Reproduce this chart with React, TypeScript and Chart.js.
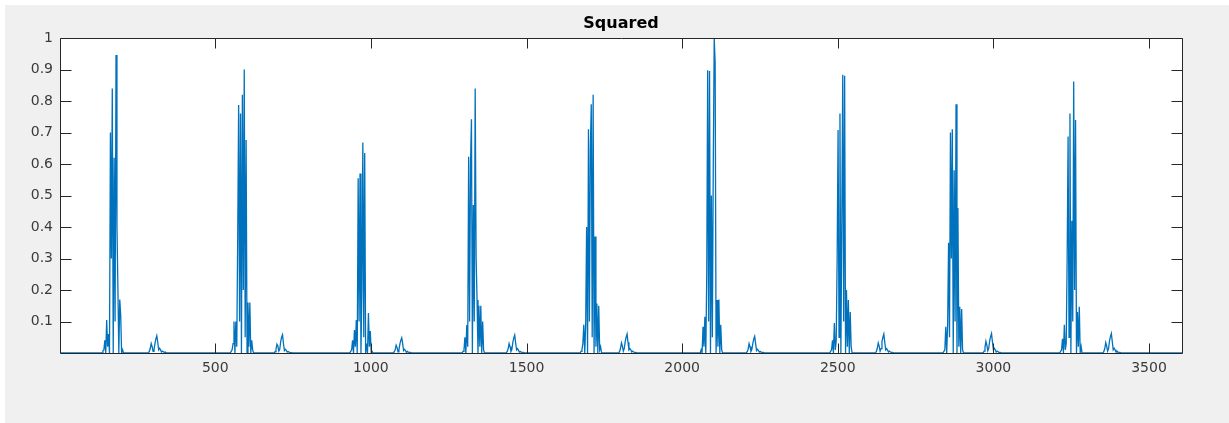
import React, { useEffect, useRef } from 'react';
import { Chart, registerables } from 'chart.js';

Chart.register(...registerables);

// ---- Data ----
const titleText = 'Squared';
const xMin = 1;
const xMax = 3606;
const xTicks = [500, 1000, 1500, 2000, 2500, 3000, 3500];
const xTickLabels = ['500', '1000', '1500', '2000', '2500', '3000', '3500'];
const yTicks = [0.1, 0.2, 0.3, 0.4, 0.5, 0.6, 0.7, 0.8, 0.9, 1];
const yTickLabels = ['0.1', '0.2', '0.3', '0.4', '0.5', '0.6', '0.7', '0.8', '0.9', '1'];

const sampleStep = 3;

const burstStarts = [136, 548, 932, 1293, 1672, 2058, 2474, 2838, 3213];
const burst1 = [0, 0.008, 0.01, 0.04, 0, 0.105, 0.02, 0.06, 0, 0.70, 0.3, 0.84, 0, 0.62, 0.1, 0.946, 0.4, 0.21, 0, 0.17, 0.12, 0, 0.01, 0];
const burst2 = [0, 0.005, 0.01, 0.03, 0.10, 0, 0.10, 0.02, 0.37, 0.787, 0.1, 0.76, 0, 0.82, 0.2, 0.90, 0.05, 0.676, 0, 0.16, 0.02, 0.16, 0, 0.04, 0.01, 0];
const burst3 = [0, 0.005, 0.01, 0.04, 0, 0.073, 0.02, 0.105, 0, 0.555, 0.1, 0.57, 0, 0.2, 0.668, 0.05, 0.635, 0, 0.03, 0, 0.127, 0.02, 0.07, 0, 0.005, 0];
const burst4 = [0, 0.005, 0.01, 0.05, 0, 0.089, 0.02, 0.623, 0.1, 0.6, 0.742, 0, 0.47, 0.1, 0.84, 0.3, 0.168, 0, 0.15, 0.02, 0.15, 0, 0.1, 0.01, 0];
const burst5 = [0, 0.005, 0.01, 0.03, 0.09, 0, 0.09, 0.40, 0, 0.71, 0.1, 0.65, 0.79, 0.05, 0.82, 0, 0.37, 0.02, 0.157, 0, 0.15, 0.01, 0.02, 0];
const burst6 = [0, 0.01, 0, 0.083, 0.02, 0.115, 0, 0.25, 0.898, 0.1, 0.895, 0, 0.5, 0.05, 0.6, 1.0, 0.92, 0, 0.168, 0.02, 0.17, 0, 0.09, 0.01, 0];
const burst7 = [0, 0.005, 0.01, 0.04, 0, 0.095, 0.01, 0.04, 0.3, 0.708, 0.05, 0.76, 0, 0.42, 0.883, 0.1, 0.88, 0, 0.2, 0.02, 0.168, 0, 0.13, 0.02, 0];
const burst8 = [0, 0.005, 0.01, 0.083, 0, 0.09, 0.35, 0.05, 0.70, 0.3, 0.71, 0, 0.58, 0.1, 0.79, 0, 0.46, 0.02, 0.147, 0, 0.14, 0.01, 0];
const burst9 = [0, 0.005, 0.01, 0.045, 0, 0.09, 0.01, 0.03, 0.3, 0.687, 0.05, 0.76, 0, 0.42, 0.1, 0.862, 0.2, 0.74, 0, 0.13, 0.02, 0.147, 0, 0.02, 0];
const bursts = [burst1, burst2, burst3, burst4, burst5, burst6, burst7, burst8, burst9];

const lobeStarts = [285, 689, 1072, 1435, 1796, 2206, 2621, 2967, 3352];
const lobe1 = [0, 0.005, 0.015, 0.03, 0.02, 0.005, 0.01, 0.03, 0.045, 0.055, 0.035, 0.01, 0.015, 0.01, 0.003, 0.006, 0.004, 0.002, 0.003, 0.001, 0];
const lobe2 = [0, 0.004, 0.012, 0.028, 0.022, 0.006, 0.012, 0.035, 0.05, 0.058, 0.03, 0.008, 0.012, 0.008, 0.003, 0.005, 0.003, 0.002, 0.002, 0.001, 0];
const lobe3 = [0, 0.004, 0.01, 0.025, 0.018, 0.004, 0.01, 0.028, 0.04, 0.048, 0.03, 0.008, 0.012, 0.008, 0.002, 0.005, 0.003, 0.002, 0.002, 0.001, 0];
const lobe4 = [0, 0.005, 0.014, 0.03, 0.02, 0.005, 0.012, 0.034, 0.048, 0.057, 0.032, 0.01, 0.014, 0.009, 0.003, 0.005, 0.003, 0.002, 0.002, 0.001, 0];
const lobe5 = [0, 0.005, 0.015, 0.032, 0.022, 0.006, 0.014, 0.036, 0.05, 0.06, 0.034, 0.01, 0.014, 0.01, 0.003, 0.006, 0.003, 0.002, 0.002, 0.001, 0];
const lobe6 = [0, 0.004, 0.012, 0.03, 0.02, 0.005, 0.012, 0.03, 0.045, 0.053, 0.03, 0.008, 0.012, 0.008, 0.003, 0.005, 0.003, 0.002, 0.002, 0.001, 0];
const lobe7 = [0, 0.005, 0.015, 0.032, 0.022, 0.006, 0.014, 0.036, 0.05, 0.06, 0.034, 0.01, 0.014, 0.009, 0.003, 0.006, 0.003, 0.002, 0.002, 0.001, 0];
const lobe8 = [0, 0.006, 0.018, 0.037, 0.025, 0.007, 0.015, 0.038, 0.052, 0.062, 0.035, 0.01, 0.015, 0.01, 0.003, 0.006, 0.004, 0.002, 0.002, 0.001, 0];
const lobe9 = [0, 0.005, 0.015, 0.033, 0.022, 0.006, 0.014, 0.038, 0.052, 0.062, 0.036, 0.01, 0.015, 0.01, 0.003, 0.006, 0.003, 0.002, 0.002, 0.001, 0];
const lobes = [lobe1, lobe2, lobe3, lobe4, lobe5, lobe6, lobe7, lobe8, lobe9];

// ---- Styles ----
const LINE_COLOR = '#0072BD';
const AXIS_COLOR = '#262626';
const LABEL_COLOR = '#3a3a3a';
const FONT_FAMILY = '"DejaVu Sans", "Liberation Sans", sans-serif';

function buildPoints() {
  const pts: { x: number; y: number }[] = [{ x: xMin, y: 0 }];
  bursts.forEach((b, i) => {
    b.forEach((v, j) => pts.push({ x: burstStarts[i] + j * sampleStep, y: v }));
    lobes[i].forEach((v, j) => pts.push({ x: lobeStarts[i] + j * sampleStep, y: v }));
  });
  pts.push({ x: xMax, y: 0 });
  return pts;
}

const boxPlugin = {
  id: 'matlabBox',
  beforeDraw(chart: any) {
    const { ctx, chartArea: a } = chart;
    ctx.save();
    ctx.fillStyle = '#ffffff';
    ctx.fillRect(a.left, a.top, a.right - a.left, a.bottom - a.top);
    ctx.restore();
  },
  afterDraw(chart: any) {
    const { ctx, chartArea: a, scales } = chart;
    const L = Math.round(a.left) + 0.5;
    const R = Math.round(a.right) + 0.5;
    const T = Math.round(a.top) + 0.5;
    const B = Math.round(a.bottom) + 0.5;
    ctx.save();
    ctx.strokeStyle = AXIS_COLOR;
    ctx.lineWidth = 1;
    ctx.beginPath();
    ctx.rect(L, T, R - L, B - T);
    ctx.stroke();
    ctx.beginPath();
    xTicks.forEach((v) => {
      const px = Math.round(scales.x.getPixelForValue(v)) + 0.5;
      ctx.moveTo(px, B);
      ctx.lineTo(px, B - 10);
      ctx.moveTo(px, T);
      ctx.lineTo(px, T + 10);
    });
    yTicks.forEach((v) => {
      const py = Math.round(scales.y.getPixelForValue(v)) + 0.5;
      ctx.moveTo(L, py);
      ctx.lineTo(L + 11, py);
      ctx.moveTo(R, py);
      ctx.lineTo(R - 11, py);
    });
    ctx.stroke();
    ctx.fillStyle = '#000000';
    ctx.font = 'bold 16px ' + FONT_FAMILY;
    ctx.textAlign = 'center';
    ctx.textBaseline = 'alphabetic';
    ctx.fillText(titleText, (a.left + a.right) / 2, a.top - 10);
    ctx.restore();
  },
};

export default function App() {
  const ref = useRef<HTMLCanvasElement>(null);
  useEffect(() => {
    if (!ref.current) return;
    const chart = new Chart(ref.current, {
      type: 'line',
      data: {
        datasets: [
          {
            data: buildPoints(),
            borderColor: LINE_COLOR,
            borderWidth: 1.3,
            pointRadius: 0,
            fill: false,
            tension: 0,
          },
        ],
      },
      options: {
        responsive: false,
        animation: false,
        events: [],
        layout: { padding: { top: 33, right: 47, left: 0, bottom: 0 } },
        plugins: {
          legend: { display: false },
          tooltip: { enabled: false },
          title: { display: false },
        },
        scales: {
          x: {
            type: 'linear',
            min: xMin,
            max: xMax,
            grid: { display: false, drawTicks: false },
            border: { display: false },
            afterBuildTicks: (scale: any) => {
              scale.ticks = xTicks.map((v) => ({ value: v }));
            },
            afterFit: (scale: any) => {
              scale.height = 70;
            },
            ticks: {
              padding: 7,
              color: LABEL_COLOR,
              font: { family: FONT_FAMILY, size: 14 },
              maxRotation: 0,
              autoSkip: false,
              callback: (_v: any, i: number) => xTickLabels[i],
            },
          },
          y: {
            type: 'linear',
            min: 0,
            max: 1,
            grid: { display: false, drawTicks: false },
            border: { display: false },
            afterBuildTicks: (scale: any) => {
              scale.ticks = yTicks.map((v) => ({ value: v }));
            },
            afterFit: (scale: any) => {
              scale.width = 55;
            },
            ticks: {
              padding: 7,
              color: LABEL_COLOR,
              font: { family: FONT_FAMILY, size: 14 },
              autoSkip: false,
              callback: (_v: any, i: number) => yTickLabels[i],
            },
          },
        },
      },
      plugins: [boxPlugin],
    } as any);
    return () => chart.destroy();
  }, []);

  return (
    <div style={{ position: 'absolute', left: 0, top: 0, width: 1229, height: 423, background: '#ffffff', overflow: 'hidden' }}>
      <div style={{ position: 'absolute', left: 5, top: 5, width: 1224, height: 418, background: '#f0f0f0' }}>
        <canvas ref={ref} width={1224} height={418} style={{ display: 'block', width: 1224, height: 418 }} />
      </div>
    </div>
  );
}
